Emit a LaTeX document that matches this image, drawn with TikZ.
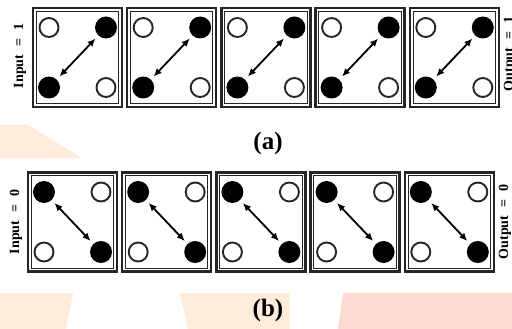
\documentclass[tikz,border=0pt]{standalone}
\usepackage{fontspec}
\setmainfont{Liberation Serif}
\usetikzlibrary{arrows.meta,calc}

\definecolor{peach}{RGB}{255,236,218}
\definecolor{blush}{RGB}{255,218,211}

\tikzset{
  cellbox/.style={draw=black!85, line width=2.4pt, minimum width=89pt, minimum height=99pt, inner sep=0pt},
  cellframe/.style={draw=black!85, line width=1.1pt},
  hole/.style={circle, draw=black!85, line width=1.9pt, fill=white, minimum size=19pt, inner sep=0pt},
  dot/.style={circle, fill=black, minimum size=22pt, inner sep=0pt},
  link/.style={{Latex[length=8pt,width=7pt]}-{Latex[length=8pt,width=7pt]}, line width=1.8pt, shorten <=4pt, shorten >=4pt},
  sidelabel/.style={rotate=90, font=\bfseries\fontsize{14}{16}\selectfont, inner sep=0pt},
  caption/.style={font=\bfseries\fontsize{25}{28}\selectfont, inner sep=0pt}
}

\begin{document}
\begin{tikzpicture}[x=1pt,y=-1pt]
  \useasboundingbox (0,0) rectangle (512,329);
  \fill[white] (0,0) rectangle (512,329);

  % pale background patches
  \fill[peach] (0,125) -- (28,125) -- (80,157) -- (80,158) -- (0,158) -- cycle;
  \fill[peach] (0,293) -- (73,293) -- (66,329) -- (0,329) -- cycle;
  \fill[peach] (180,293) -- (290,293) -- (290,329) -- (188,329) -- cycle;
  \fill[blush] (343,293) -- (512,293) -- (512,329) -- (338,329) -- cycle;

  % row (a): input 1
  \foreach \i in {0,...,4} {
    \node[cellbox] (a\i) at ({33+44.5+94.2*\i},57.5) {};
    \draw[cellframe] ($(a\i.north west)+(4.5,4.5)$) rectangle ($(a\i.south east)+(-4.5,-4.5)$);
    \node[hole] (a\i-tl) at ($(a\i)+(-28.5,-30)$) {};
    \node[dot]  (a\i-tr) at ($(a\i)+(28.5,-30)$) {};
    \node[dot]  (a\i-bl) at ($(a\i)+(-28.5,30)$) {};
    \node[hole] (a\i-br) at ($(a\i)+(28.5,30)$) {};
    \draw[link] (a\i-bl) -- (a\i-tr);
  }
  \node[sidelabel] (ina) at (20,56) {Input\hspace{8pt}=\hspace{8pt}1};
  \node[sidelabel] (outa) at (510,54) {Output\hspace{8pt}=\hspace{8pt}1};
  \node[caption] (capa) at (268,143) {(a)};

  % row (b): input 0
  \foreach \i in {0,...,4} {
    \node[cellbox] (b\i) at ({28+44.5+94.2*\i},222) {};
    \draw[cellframe] ($(b\i.north west)+(4.5,4.5)$) rectangle ($(b\i.south east)+(-4.5,-4.5)$);
    \node[dot]  (b\i-tl) at ($(b\i)+(-28.5,-30)$) {};
    \node[hole] (b\i-tr) at ($(b\i)+(28.5,-30)$) {};
    \node[hole] (b\i-bl) at ($(b\i)+(-28.5,30)$) {};
    \node[dot]  (b\i-br) at ($(b\i)+(28.5,30)$) {};
    \draw[link] (b\i-tl) -- (b\i-br);
  }
  \node[sidelabel] (inb) at (16,222) {Input\hspace{8pt}=\hspace{8pt}0};
  \node[sidelabel] (outb) at (505,222) {Output\hspace{8pt}=\hspace{8pt}0};
  \node[caption] (capb) at (268,310) {(b)};
\end{tikzpicture}
\end{document}
